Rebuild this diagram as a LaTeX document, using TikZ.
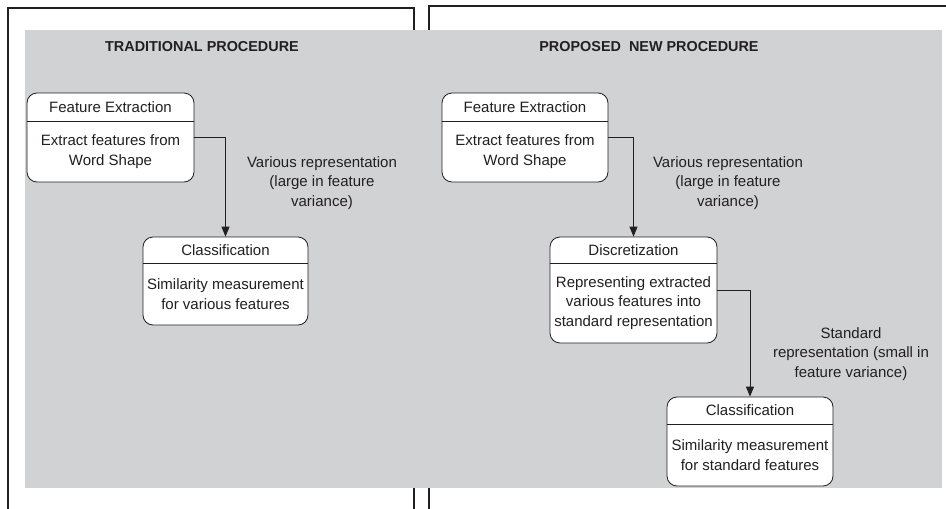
\documentclass[tikz,border=0pt]{standalone}
\usepackage{fontspec}
\setmainfont{Liberation Sans}
\usetikzlibrary{arrows.meta}
\definecolor{panelgray}{HTML}{D1D2D4}
\definecolor{ink}{HTML}{231F20}
\begin{document}
\begin{tikzpicture}[x=1pt,y=-1pt,
  frame/.style={line width=2.6pt, draw=ink, line cap=rect},
  stage/.style={draw=ink, line width=0.8pt, fill=white, rounded corners=10pt, inner sep=0pt},
  txt/.style={font=\fontsize{15}{19.6}\selectfont, text=ink, align=center, inner sep=0pt},
  ttl/.style={font=\bfseries\fontsize{14.4}{17}\selectfont, text=ink, inner sep=0pt},
  divider/.style={draw=ink, line width=0.8pt},
  flow/.style={draw=ink, line width=0.8pt, -{Triangle[length=10pt,width=8pt]}},
]
\useasboundingbox (0,0) rectangle (946,509);

% outer frames of the two panels
\draw[frame] (8,509) -- (8,8) -- (414,8) -- (414,509);
\draw[frame] (429,509) -- (429,6) -- (946,6);

% shaded background
\fill[panelgray] (25,30) rectangle (942,488);

% panel titles
\node[ttl] (t1) at (202,47) {TRADITIONAL PROCEDURE};
\node[ttl] (t2) at (649,47) {PROPOSED\ \ NEW PROCEDURE};

% ---------- traditional procedure ----------
\node[stage, minimum width=167pt, minimum height=89pt] (fe1) at (110.5,137.5) {};
\coordinate (d1) at (0,121);
\draw[divider] (fe1.west |- d1) -- (fe1.east |- d1);
\node[txt] (fe1h) at (110.5,107) {Feature Extraction};
\node[txt] (fe1b) at (110.5,151.5) {Extract features from\\Word Shape};

\node[stage, minimum width=165pt, minimum height=88pt] (cl1) at (225.5,281) {};
\coordinate (d2) at (0,263);
\draw[divider] (cl1.west |- d2) -- (cl1.east |- d2);
\node[txt] (cl1h) at (225.5,250) {Classification};
\node[txt] (cl1b) at (225.5,294) {Similarity measurement\\for various features};

\draw[flow] (fe1.east) -| (cl1.north);
\node[txt] (lab1) at (322,183) {Various representation\\(large in feature\\variance)};

% ---------- proposed new procedure ----------
\node[stage, minimum width=166pt, minimum height=89pt] (fe2) at (525,137.5) {};
\draw[divider] (fe2.west |- d1) -- (fe2.east |- d1);
\node[txt] (fe2h) at (525,107) {Feature Extraction};
\node[txt] (fe2b) at (525,151.5) {Extract features from\\Word Shape};

\node[stage, minimum width=167pt, minimum height=106pt] (ds) at (633.5,290) {};
\draw[divider] (ds.west |- d2) -- (ds.east |- d2);
\node[txt] (dsh) at (633.5,250) {Discretization};
\node[txt] (dsb) at (633.5,303) {Representing extracted\\various features into\\standard representation};

\node[stage, minimum width=166pt, minimum height=89pt] (cl2) at (750,441.5) {};
\coordinate (d3) at (0,424);
\draw[divider] (cl2.west |- d3) -- (cl2.east |- d3);
\node[txt] (cl2h) at (750,410.5) {Classification};
\node[txt] (cl2b) at (750,455) {Similarity measurement\\for standard features};

\draw[flow] (fe2.east) -| (ds.north);
\node[txt] (lab2) at (728,183) {Various representation\\(large in feature\\variance)};

\draw[flow] (ds.east) -| (cl2.north);
\node[txt] (lab3) at (851,354) {Standard\\representation (small in\\feature variance)};
\end{tikzpicture}
\end{document}
